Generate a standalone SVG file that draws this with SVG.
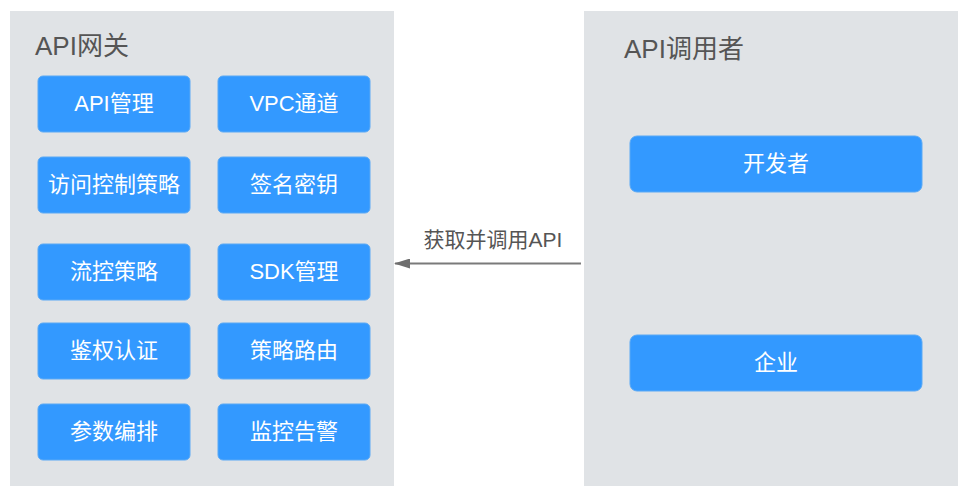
<svg xmlns="http://www.w3.org/2000/svg" width="958" height="486" viewBox="0 0 958 486">
<defs>
<style>
.panel{fill:#e0e3e6}
.box{fill:#3399ff;stroke:#5aa9f5;stroke-width:1}
.bt{font-family:"Liberation Sans","Noto Sans CJK SC",sans-serif;font-size:22px;fill:#ffffff;text-anchor:middle}
.title{font-family:"Liberation Sans","Noto Sans CJK SC",sans-serif;font-size:26px;fill:#555555}
.lbl{font-family:"Liberation Sans","Noto Sans CJK SC",sans-serif;font-size:21px;fill:#555555;text-anchor:middle}
.conn{stroke:#7a7a7a;stroke-width:2;fill:none}
</style>
<marker id="ah" markerWidth="16" markerHeight="10" refX="15" refY="5" orient="auto" markerUnits="userSpaceOnUse">
<path d="M0,0 L16,5 L0,10 Z" fill="#6e6e6e"/>
</marker>
</defs>
<rect width="958" height="486" fill="#ffffff"/>
<g id="gateway">
<rect class="panel" x="10" y="11" width="384" height="475"/>
<text class="title" x="35" y="55">API网关</text>
</g>
<g id="caller">
<rect class="panel" x="584" y="11" width="374" height="475"/>
<text class="title" x="624" y="58">API调用者</text>
</g>
<g id="api-mgmt"><rect class="box" x="38" y="76" width="152" height="56" rx="5"/><text class="bt" x="114" y="111">API管理</text></g>
<g id="vpc"><rect class="box" x="218" y="76" width="152" height="56" rx="5"/><text class="bt" x="294" y="111">VPC通道</text></g>
<g id="acl"><rect class="box" x="38" y="157" width="152" height="56" rx="5"/><text class="bt" x="114" y="192">访问控制策略</text></g>
<g id="sign"><rect class="box" x="218" y="157" width="152" height="56" rx="5"/><text class="bt" x="294" y="192">签名密钥</text></g>
<g id="flow"><rect class="box" x="38" y="244" width="152" height="56" rx="5"/><text class="bt" x="114" y="279">流控策略</text></g>
<g id="sdk"><rect class="box" x="218" y="244" width="152" height="56" rx="5"/><text class="bt" x="294" y="279">SDK管理</text></g>
<g id="auth"><rect class="box" x="38" y="323" width="152" height="56" rx="5"/><text class="bt" x="114" y="358">鉴权认证</text></g>
<g id="route"><rect class="box" x="218" y="323" width="152" height="56" rx="5"/><text class="bt" x="294" y="358">策略路由</text></g>
<g id="params"><rect class="box" x="38" y="404" width="152" height="56" rx="5"/><text class="bt" x="114" y="439">参数编排</text></g>
<g id="monitor"><rect class="box" x="218" y="404" width="152" height="56" rx="5"/><text class="bt" x="294" y="439">监控告警</text></g>
<g id="dev"><rect class="box" x="630" y="136" width="292" height="56" rx="7"/><text class="bt" x="776" y="171">开发者</text></g>
<g id="ent"><rect class="box" x="630" y="335" width="292" height="56" rx="7"/><text class="bt" x="776" y="370">企业</text></g>
<g id="connectors">
<line class="conn" x1="581" y1="263.5" x2="395" y2="263.5" marker-end="url(#ah)"/>
<text class="lbl" x="493" y="247">获取并调用API</text>
</g>
</svg>
